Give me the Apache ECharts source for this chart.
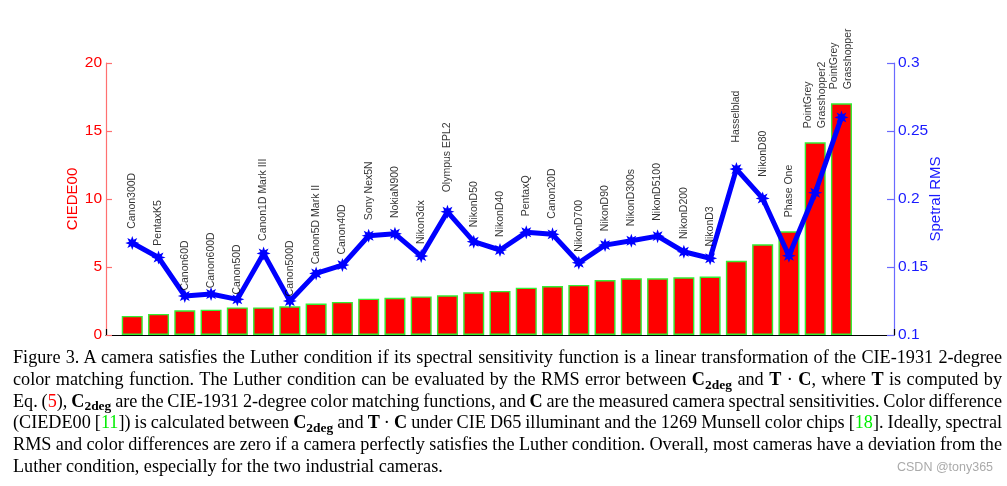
<!DOCTYPE html>
<html>
<head>
<meta charset="utf-8">
<script src="https://cdn.jsdelivr.net/npm/echarts@6/dist/echarts.min.js"></script>
<style>
  html, body { margin:0; padding:0; background:#fff; }
  #chart { position:absolute; left:0; top:0; width:1007px; height:486px; }
  #cap { position:absolute; left:13px; top:347px; width:989px;
         font-family:'Liberation Serif','Times New Roman',serif; font-size:18.2px;
         line-height:21.8px; color:#000; }
  #cap .ln { white-space:nowrap; }
  #cap b { font-weight:bold; }
  .sb { position:relative; top:0.28em; font-size:0.74em; font-weight:bold; line-height:0; }
  .red { color:#ff0000; } .grn { color:#00ee00; }
  #wm { position:absolute; left:897px; top:460px; font-family:'Liberation Sans',Arial,sans-serif;
        font-size:12.5px; color:#aaaaaa; white-space:nowrap; }
</style>
</head>
<body>
<div id="chart"></div>
<div id="cap">
  <div class="ln j">Figure 3. A camera satisfies the Luther condition if its spectral sensitivity function is a linear transformation of the CIE-1931 2-degree</div>
  <div class="ln j">color matching function. The Luther condition can be evaluated by the RMS error between <b>C</b><span class="sb">2deg</span> and <b>T</b> · <b>C</b>, where <b>T</b> is computed by</div>
  <div class="ln j">Eq. (<span class="red">5</span>), <b>C</b><span class="sb">2deg</span> are the CIE-1931 2-degree color matching functions, and <b>C</b> are the measured camera spectral sensitivities. Color difference</div>
  <div class="ln j">(CIEDE00 [<span class="grn">11</span>]) is calculated between <b>C</b><span class="sb">2deg</span> and <b>T</b> · <b>C</b> under CIE D65 illuminant and the 1269 Munsell color chips [<span class="grn">18</span>]. Ideally, spectral</div>
  <div class="ln j">RMS and color differences are zero if a camera perfectly satisfies the Luther condition. Overall, most cameras have a deviation from the</div>
  <div class="ln">Luther condition, especially for the two industrial cameras.</div>
</div>
<div id="wm">CSDN @tony365</div>
<script>
// ---- data ----
const cameras = ['Canon300D','PentaxK5','Canon60D','Canon600D','Canon50D','Canon1D Mark III','Canon500D',
  'Canon5D Mark II','Canon40D','Sony Nex5N','NokiaN900','Nikon3dx','Olympus EPL2','NikonD50','NikonD40',
  'PentaxQ','Canon20D','NikonD700','NikonD90','NikonD300s','NikonD5100','NikonD200','NikonD3','Hasselblad',
  'NikonD80','Phase One','PointGrey\nGrasshopper2','PointGrey\nGrasshopper'];
const ciede00 = [1.40,1.55,1.82,1.86,2.03,2.03,2.11,2.31,2.43,2.67,2.74,2.84,2.92,3.14,3.24,3.48,3.60,3.68,
  4.04,4.17,4.17,4.24,4.30,5.46,6.67,7.62,14.17,17.04];
const spectralRMS = [0.1676,0.1570,0.1287,0.1301,0.1262,0.1600,0.1250,0.1453,0.1514,0.1730,0.1744,0.1580,
  0.1906,0.1686,0.1625,0.1755,0.1740,0.1531,0.1661,0.1693,0.1727,0.1612,0.1564,0.2220,0.2004,0.1583,0.2046,0.2600];
const leftTicks = {min:0, max:20, interval:5};
const rightTicks = {min:0.1, max:0.3, interval:0.05};

// ---- chart ----
const chart = echarts.init(document.getElementById('chart'), null, {renderer:'canvas'});
const font = "'Liberation Sans', Arial, Helvetica, sans-serif";

// asterisk-like star marker
const starPts = [];
for (let k = 0; k < 16; k++) {
  const a = k * Math.PI / 8 - Math.PI / 2;
  const r = (k % 2) ? 0.5 : 1;
  starPts.push((r * Math.cos(a)).toFixed(3) + ' ' + (r * Math.sin(a)).toFixed(3));
}
const starPath = 'path://M' + starPts.join(' L') + ' Z';

// map right-axis value into left-axis units
const toLeft = v => (v - rightTicks.min) / (rightTicks.max - rightTicks.min) * (leftTicks.max - leftTicks.min);

const barData = ciede00.map((v, i) => [i + 1, v]);
const lineData = spectralRMS.map((v, i) => [i + 1, v]);
const labelData = cameras.map((n, i) => {
  const p = toLeft(spectralRMS[i]);
  const b = ciede00[i];
  const y = b > p ? b + 1.0 : 1.167 * p - 0.12;
  return {value: [i + 1, y], name: n};
});

chart.setOption({
  animation: false,
  grid: {left: 106, right: 113, top: 63, bottom: 151, containLabel: false},
  xAxis: {
    type: 'value', min: 0, max: 30, interval: 5,
    axisLine: {show: true, onZero: false, lineStyle: {color: '#000', width: 1.2}},
    axisTick: {show: true, inside: true, length: 6, lineStyle: {color: '#000', width: 1.2}},
    axisLabel: {show: false},
    splitLine: {show: false}
  },
  yAxis: [
    {
      type: 'value', position: 'left', min: leftTicks.min, max: leftTicks.max, interval: leftTicks.interval,
      name: 'CIEDE00', nameLocation: 'middle', nameGap: 26, nameRotate: 90, nameMoveOverlap: false,
      nameTextStyle: {color: '#ff0000', fontSize: 15, fontFamily: font},
      axisLine: {show: true, lineStyle: {color: '#ff7070', width: 1.2}},
      axisTick: {show: true, inside: true, length: 6, lineStyle: {color: '#ff7070', width: 1.2}},
      axisLabel: {color: '#ff0000', fontSize: 15.5, fontFamily: font, margin: 4},
      splitLine: {show: false}
    },
    {
      type: 'value', position: 'right', min: rightTicks.min, max: rightTicks.max, interval: rightTicks.interval,
      name: 'Spetral RMS', nameLocation: 'middle', nameGap: 34, nameRotate: 90, nameMoveOverlap: false,
      nameTextStyle: {color: '#1a1aff', fontSize: 15, fontFamily: font},
      axisLine: {show: true, lineStyle: {color: '#6a6aff', width: 1.2}},
      axisTick: {show: true, inside: true, length: 7, lineStyle: {color: '#6a6aff', width: 1.2}},
      axisLabel: {color: '#1a1aff', fontSize: 15.5, fontFamily: font, margin: 4,
                  formatter: v => String(+v.toFixed(2))},
      splitLine: {show: false}
    }
  ],
  series: [
    {
      type: 'bar', yAxisIndex: 0, data: barData, barWidth: '80%', z: 2,
      itemStyle: {color: '#ff0000', borderColor: '#33ee33', borderWidth: 1.4}
    },
    {
      type: 'line', yAxisIndex: 1, data: lineData, z: 3,
      lineStyle: {color: '#0000ff', width: 5},
      symbol: starPath, symbolSize: 14, showAllSymbol: true,
      itemStyle: {color: '#0000ff'}
    },
    {
      type: 'scatter', yAxisIndex: 0, data: labelData, z: 4, silent: true,
      symbolSize: 1, itemStyle: {color: 'rgba(0,0,0,0)'},
      label: {
        show: true, position: 'top', distance: 0, rotate: 90,
        align: 'left', verticalAlign: 'middle',
        formatter: p => p.name,
        color: '#000', fontSize: 10.5, fontFamily: font, lineHeight: 14
      },
      labelLayout: {hideOverlap: false}
    }
  ]
});

// ---- justify caption lines exactly ----
document.querySelectorAll('#cap .ln.j').forEach(el => {
  const target = 989;
  const r = document.createRange();
  r.selectNodeContents(el);
  const w = r.getBoundingClientRect().width;
  const spaces = (el.textContent.trim().match(/ /g) || []).length;
  if (spaces > 0) el.style.wordSpacing = ((target - w) / spaces) + 'px';
});
</script>
</body>
</html>
